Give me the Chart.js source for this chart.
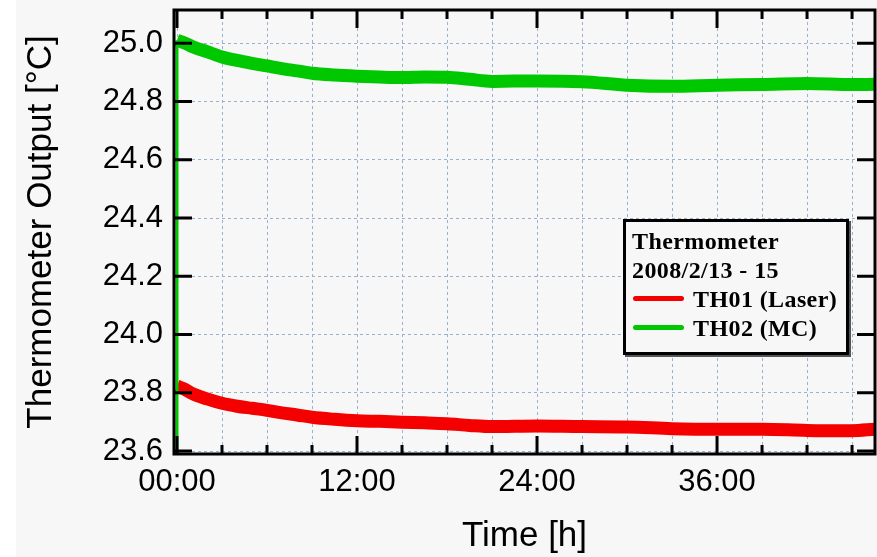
<!DOCTYPE html>
<html>
<head>
<meta charset="utf-8">
<script src="https://cdn.jsdelivr.net/npm/chart.js@4/dist/chart.umd.min.js"></script>
<style>
    body { margin: 0; background: #ffffff; width: 877px; height: 557px; overflow: hidden; position: relative; }
    #wrap { position: absolute; left: 16px; top: 0; width: 861px; height: 557px; background: #f7f7f7; }
    #legend {
        position: absolute; left: 623px; top: 219px; width: 226px; height: 136px;
        box-sizing: border-box; border: 3px solid #000; box-shadow: 2px 2px 0 #555;
        background: #f7f7f7; padding: 5px 0 0 6px;
        font-family: "Liberation Serif", "Times New Roman", serif; font-weight: bold;
        font-size: 24px; letter-spacing: 0.4px; line-height: 29px; color: #000; white-space: nowrap;
    }
    .swatch { display: inline-block; width: 51px; height: 5px; border-radius: 3px; margin: 0 9px 0 1px; position: relative; top: -6px; }
</style>
</head>
<body>
<div id="wrap"><canvas id="chart" width="861" height="557"></canvas></div>
<div id="legend"></div>
<script>
// Tiempo en horas desde el inicio (2008/2/13)
const timeHours = [0, 0.5, 1, 2, 3, 4, 5, 6, 7, 8, 9, 10.5, 12, 13.5, 15, 16.5, 18, 19.5, 21, 22.5, 24, 27, 30, 33, 36, 39, 42, 45, 46.5];

// TH01 (Laser)
const th01 = [23.823, 23.813, 23.798, 23.779, 23.764, 23.754, 23.747, 23.740, 23.731, 23.724, 23.716, 23.709, 23.704, 23.702, 23.699, 23.697, 23.694, 23.688, 23.684, 23.685, 23.686, 23.684, 23.683, 23.677, 23.675, 23.675, 23.671, 23.670, 23.675];

// TH02 (MC)
const th02 = [25.010, 25.001, 24.989, 24.971, 24.953, 24.941, 24.931, 24.922, 24.913, 24.905, 24.897, 24.891, 24.887, 24.884, 24.882, 24.884, 24.883, 24.876, 24.869, 24.870, 24.870, 24.868, 24.856, 24.852, 24.856, 24.858, 24.862, 24.858, 24.859];

// Salto inicial de TH02 (línea vertical en t = 0)
const th02StartTime = [0, 0];
const th02StartValue = [23.0, 25.010];

const legendTitle = ['Thermometer', '2008/2/13 - 15'];
const seriesLabels = ['TH01 (Laser)', 'TH02 (MC)'];
const seriesColors = ['#f50000', '#00c800'];

const yTicks = { min: 23.59, max: 25.114, step: 0.2 };
const xTicks = { min: -0.2, max: 46.53, step: 3, labelEvery: 12 };

const toPoints = (xs, ys) => xs.map((x, i) => ({ x: x, y: ys[i] }));

// Marco negro y marcas hacia adentro
const framePlugin = {
    id: 'frame',
    afterDraw(chart) {
        const { ctx, chartArea: a, scales: { x, y } } = chart;
        ctx.save();
        ctx.strokeStyle = '#000';
        ctx.lineWidth = 3;
        ctx.beginPath();
        x.ticks.forEach(t => {
            const px = x.getPixelForValue(t.value);
            const len = t.value % xTicks.labelEvery === 0 ? 18 : 9;
            ctx.moveTo(px, a.bottom); ctx.lineTo(px, a.bottom - len);
            ctx.moveTo(px, a.top); ctx.lineTo(px, a.top + len);
        });
        y.ticks.forEach(t => {
            const py = y.getPixelForValue(t.value);
            ctx.moveTo(a.left, py); ctx.lineTo(a.left + 18, py);
            ctx.moveTo(a.right, py); ctx.lineTo(a.right - 18, py);
        });
        ctx.stroke();
        ctx.strokeRect(a.left, a.top, a.right - a.left, a.bottom - a.top);
        ctx.restore();
    }
};

Chart.defaults.font.family = '"Liberation Sans", Arial, sans-serif';
Chart.defaults.color = '#000';

const gridStyle = { color: '#98b2d0', lineWidth: 1, drawTicks: false };

new Chart(document.getElementById('chart'), {
    type: 'line',
    data: {
        datasets: [
            {
                label: 'TH02 start',
                data: toPoints(th02StartTime, th02StartValue),
                borderColor: seriesColors[1],
                borderWidth: 3,
                pointRadius: 0,
                order: 0
            },
            {
                label: seriesLabels[0],
                data: toPoints(timeHours, th01),
                borderColor: seriesColors[0],
                borderWidth: 13,
                pointRadius: 0,
                cubicInterpolationMode: 'monotone',
                order: 1
            },
            {
                label: seriesLabels[1],
                data: toPoints(timeHours, th02),
                borderColor: seriesColors[1],
                borderWidth: 13,
                pointRadius: 0,
                cubicInterpolationMode: 'monotone',
                order: 1
            }
        ]
    },
    options: {
        responsive: false,
        animation: false,
        devicePixelRatio: 1,
        layout: { padding: { top: 10, right: 2, left: 0, bottom: 0 } },
        plugins: { legend: { display: false }, tooltip: { enabled: false } },
        scales: {
            x: {
                type: 'linear',
                min: xTicks.min,
                max: xTicks.max,
                afterFit(s) { s.height = 103; s.paddingLeft = 0; s.paddingRight = 0; },
                grid: gridStyle,
                border: { display: false, dash: [3, 3] },
                ticks: {
                    stepSize: xTicks.step,
                    includeBounds: false,
                    autoSkip: false,
                    maxRotation: 0,
                    padding: 10,
                    font: { size: 31 },
                    callback: v => v % xTicks.labelEvery === 0 ? String(v).padStart(2, '0') + ':00' : ''
                },
                title: { display: true, text: 'Time [h]', font: { size: 35 }, padding: { top: 0, bottom: 0 } }
            },
            y: {
                min: yTicks.min,
                max: yTicks.max,
                afterFit(s) { s.width = 158; s.paddingTop = 0; s.paddingBottom = 0; },
                grid: gridStyle,
                border: { display: false, dash: [3, 3] },
                ticks: {
                    stepSize: yTicks.step,
                    includeBounds: false,
                    padding: 11,
                    font: { size: 31 },
                    callback: v => Number(v).toFixed(1)
                },
                title: { display: true, text: 'Thermometer Output [°C]', font: { size: 35 }, padding: { top: 4, bottom: 0 } }
            }
        }
    },
    plugins: [framePlugin]
});

// Leyenda con título de dos líneas
const legend = document.getElementById('legend');
let html = legendTitle.map(t => `<div>${t}</div>`).join('');
seriesLabels.forEach((label, i) => {
    html += `<div><span class="swatch" style="background:${seriesColors[i]}"></span>${label}</div>`;
});
legend.innerHTML = html;
</script>
</body>
</html>
